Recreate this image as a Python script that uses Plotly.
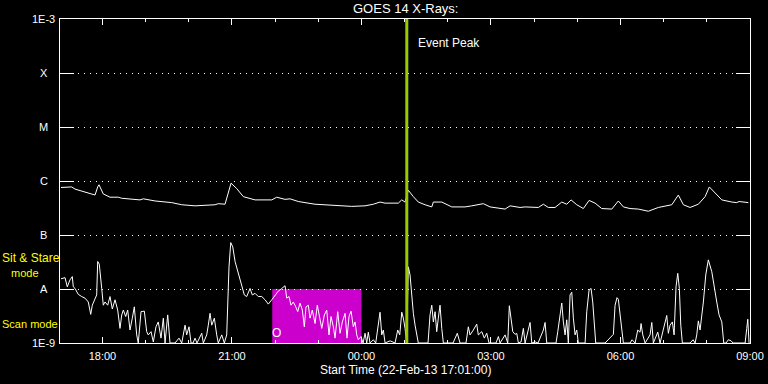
import numpy as np
import pandas as pd
import plotly.graph_objects as go

START = pd.Timestamp("2013-02-22 17:01:00")
END = pd.Timestamp("2013-02-23 09:00:00")

# minutes after start time, log10 flux (W/m^2)
long_t = [1.4, 16.3, 20.9, 34.8, 48.7, 52.4, 54.2, 60.2, 69.5, 81.0,
          85.8, 111.2, 115.8, 132.1, 155.3, 169.2, 187.7, 215.5, 220.0, 229.4,
          233.1, 237.7, 245.6, 254.8, 271.1, 294.3, 301.2, 312.8, 319.7, 331.2,
          354.5, 372.9, 405.5, 424.0, 435.5, 444.8, 451.8, 470.2, 475.0, 479.6,
          484.1, 491.1, 498.0, 507.4, 516.7, 518.9, 530.6, 544.5, 563.0, 572.3,
          588.4, 597.7, 618.6, 625.5, 639.4, 646.4, 655.7, 664.8, 671.8, 678.7,
          688.1, 697.4, 704.3, 710.3, 718.2, 727.4, 735.3, 743.7, 752.9, 766.9,
          776.0, 783.0, 792.3, 803.8, 817.7, 831.6, 850.3, 859.4, 866.4, 875.7,
          887.2, 896.6, 902.5, 910.5, 919.8, 933.7, 940.6, 943.8, 956.7]
long_log = [-6.12, -6.11, -6.15, -6.21, -6.26, -6.11, -6.07, -6.24, -6.30, -6.30,
            -6.32, -6.35, -6.33, -6.37, -6.40, -6.44, -6.46, -6.44, -6.42, -6.43,
            -6.26, -6.04, -6.14, -6.29, -6.35, -6.35, -6.30, -6.34, -6.33, -6.38,
            -6.43, -6.44, -6.47, -6.46, -6.43, -6.39, -6.41, -6.41, -6.35, -6.39,
            -6.17, -6.29, -6.39, -6.44, -6.48, -6.39, -6.39, -6.48, -6.48, -6.46,
            -6.42, -6.48, -6.52, -6.46, -6.49, -6.48, -6.49, -6.49, -6.43, -6.49,
            -6.49, -6.39, -6.43, -6.35, -6.44, -6.51, -6.36, -6.41, -6.51, -6.52,
            -6.37, -6.48, -6.51, -6.52, -6.56, -6.49, -6.44, -6.26, -6.44, -6.49,
            -6.43, -6.29, -6.11, -6.23, -6.35, -6.39, -6.40, -6.38, -6.40]

short_t = [1.4, 7.0, 10.1, 13.9, 17.1, 18.5, 20.9, 25.4, 30.2, 34.8,
           39.3, 42.7, 44.9, 48.7, 51.0, 52.4, 54.6, 58.0, 60.2, 62.6,
           66.3, 69.5, 72.7, 76.5, 80.2, 83.4, 85.8, 88.0, 91.3, 94.1,
           97.3, 100.5, 103.3, 106.6, 108.8, 112.6, 117.2, 120.5, 122.7, 126.5,
           129.7, 133.4, 136.6, 140.4, 143.6, 146.0, 149.7, 152.9, 159.9, 165.4,
           169.2, 173.8, 176.1, 179.3, 182.1, 184.9, 187.7, 190.4, 197.0, 199.2,
           203.9, 206.1, 208.5, 210.9, 214.5, 217.8, 220.0, 224.8, 228.4, 231.7,
           233.1, 234.9, 237.3, 240.1, 243.3, 247.8, 252.6, 256.2, 259.5, 264.1,
           267.3, 271.1, 275.6, 280.4, 285.0, 289.5, 294.3, 298.9, 303.4, 308.2,
           312.8, 315.1, 318.3, 321.1, 324.3, 327.6, 330.4, 333.6, 336.8, 339.6,
           341.9, 345.1, 347.5, 350.7, 354.5, 357.6, 360.4, 363.8, 367.4, 370.7,
           373.9, 376.7, 379.9, 382.3, 386.0, 389.2, 392.4, 396.2, 398.9, 401.7,
           404.5, 407.7, 410.1, 412.4, 414.6, 418.4, 421.2, 424.0, 426.3, 428.5,
           430.9, 435.5, 438.8, 442.4, 444.8, 447.2, 449.4, 451.8, 458.7, 465.7,
           469.4, 472.2, 475.0, 477.2, 479.6, 481.9, 484.1, 486.5, 488.9, 491.1,
           493.5, 495.8, 498.0, 511.5, 514.3, 516.7, 518.9, 521.3, 523.6, 525.8,
           528.2, 530.6, 532.8, 546.3, 549.1, 552.2, 556.0, 564.3, 567.5, 569.9,
           574.5, 579.2, 581.4, 586.2, 589.8, 593.1, 596.3, 606.0, 609.3, 611.6,
           618.6, 622.3, 624.5, 626.9, 629.3, 632.5, 634.8, 637.1, 640.8, 644.0,
           646.4, 653.3, 655.7, 660.3, 664.4, 671.8, 674.2, 676.5, 689.4, 691.8,
           695.0, 697.4, 699.6, 702.0, 704.3, 706.5, 708.9, 711.3, 713.5, 715.9,
           718.2, 720.4, 729.8, 732.1, 735.3, 738.1, 740.4, 742.7, 744.6, 757.6,
           769.1, 771.5, 774.2, 776.0, 778.4, 780.8, 783.0, 792.3, 795.1, 799.3,
           803.0, 806.2, 807.6, 810.0, 813.2, 820.1, 822.5, 824.7, 830.8, 834.0,
           840.0, 843.3, 845.5, 847.9, 851.1, 853.5, 856.2, 858.6, 860.8, 862.8,
           865.0, 875.7, 879.9, 882.7, 885.0, 887.2, 889.6, 894.2, 897.5, 901.1,
           905.9, 909.4, 912.8, 916.0, 919.8, 922.5, 925.7, 928.9, 932.7, 935.5,
           952.2, 954.5, 955.9, 957.7]
short_log = [-7.81, -7.79, -7.96, -7.83, -7.77, -7.96, -7.99, -8.10, -8.14, -8.17,
             -8.24, -8.47, -8.30, -8.20, -8.11, -7.49, -7.54, -7.99, -8.30, -8.24,
             -8.30, -8.14, -8.37, -8.20, -8.39, -8.73, -8.48, -8.39, -8.51, -8.39,
             -8.76, -8.54, -8.33, -8.85, -9.00, -8.42, -8.41, -8.79, -8.85, -8.79,
             -8.98, -8.70, -8.61, -8.91, -8.54, -9.00, -8.48, -9.00, -9.00, -8.91,
             -9.00, -8.67, -8.85, -8.70, -9.00, -9.00, -8.91, -9.00, -8.82, -9.00,
             -8.85, -8.67, -8.45, -8.67, -8.54, -8.85, -9.00, -8.85, -9.00, -8.85,
             -8.14, -7.59, -7.14, -7.22, -7.49, -7.71, -7.96, -8.11, -8.14, -7.99,
             -8.11, -8.08, -8.14, -8.14, -8.20, -8.28, -8.20, -8.11, -8.04, -7.99,
             -7.94, -8.17, -8.14, -8.30, -8.24, -8.33, -8.42, -8.26, -8.39, -8.70,
             -8.33, -8.30, -8.54, -8.39, -8.64, -8.30, -8.48, -8.73, -8.48, -8.39,
             -8.85, -8.51, -8.70, -8.91, -8.42, -8.82, -8.61, -8.45, -8.91, -8.51,
             -8.41, -8.70, -8.61, -8.85, -8.94, -8.88, -9.00, -8.82, -9.00, -8.80,
             -9.00, -8.94, -9.00, -8.61, -8.43, -8.85, -8.76, -9.00, -8.96, -9.00,
             -8.76, -8.85, -8.43, -8.54, -8.73, -9.00, -7.59, -7.74, -8.14, -8.45,
             -8.67, -8.85, -9.00, -9.00, -8.48, -8.30, -8.61, -8.42, -8.79, -8.54,
             -8.30, -8.73, -9.00, -9.00, -8.91, -8.82, -9.00, -9.00, -8.70, -8.85,
             -8.76, -8.65, -8.85, -8.79, -8.91, -8.82, -9.00, -9.00, -8.88, -9.00,
             -8.85, -9.00, -8.31, -8.54, -8.79, -8.84, -8.82, -9.00, -8.98, -8.73,
             -9.00, -8.62, -9.00, -8.98, -9.00, -8.76, -8.62, -9.00, -9.00, -8.79,
             -8.48, -8.26, -8.61, -8.85, -8.57, -9.00, -8.11, -8.06, -8.54, -8.85,
             -8.76, -9.00, -9.00, -8.42, -8.02, -7.99, -8.24, -8.70, -9.00, -9.00,
             -8.84, -8.30, -8.16, -8.19, -8.48, -8.85, -9.00, -9.00, -8.94, -9.00,
             -8.76, -8.80, -8.64, -8.85, -9.00, -8.85, -8.62, -9.00, -8.80, -9.00,
             -8.70, -8.49, -8.82, -8.67, -8.61, -8.85, -7.96, -7.71, -7.99, -8.67,
             -9.00, -9.00, -8.94, -9.00, -8.85, -8.59, -8.76, -8.24, -7.74, -7.46,
             -7.68, -7.93, -8.24, -8.48, -8.61, -9.00, -9.00, -8.94, -8.96, -9.00,
             -9.00, -8.73, -8.56, -9.00]

level_vals = [1e-9, 1e-8, 1e-7, 1e-6, 1e-5, 1e-4, 1e-3]
level_text = ["1E-9", "A", "B", "C", "M", "X", "1E-3"]

event_time = pd.Timestamp("2013-02-23 01:03:00")
scan_start = pd.Timestamp("2013-02-22 21:56:00")
scan_end = pd.Timestamp("2013-02-23 00:00:00")

FONT = "Liberation Sans"
FS = 11


def to_time(mins):
    return START + pd.to_timedelta(np.array(mins), unit="min")


fig = go.Figure()
fig.add_trace(go.Scatter(x=to_time(long_t), y=10 ** np.array(long_log), mode="lines",
                         line=dict(color="white", width=1), showlegend=False))
fig.add_trace(go.Scatter(x=to_time(short_t), y=10 ** np.array(short_log), mode="lines",
                         line=dict(color="white", width=1), showlegend=False))

# scan mode box
fig.add_shape(type="rect", xref="x", yref="y", x0=scan_start, x1=scan_end,
              y0=1e-9, y1=1e-8, fillcolor="#cc00cc", line=dict(width=0), layer="below")
# event peak line
fig.add_shape(type="line", xref="x", yref="paper", x0=event_time, x1=event_time,
              y0=0, y1=1, line=dict(color="#99cc00", width=3), layer="above")

ann = []
for v, t in zip(level_vals, level_text):
    ann.append(dict(text=t, xref="paper", yref="y", x=-0.0232, y=np.log10(v),
                    xanchor="center", yanchor="middle", showarrow=False,
                    font=dict(color="white", size=FS, family=FONT)))
ann += [
    dict(text="GOES 14 X-Rays:", xref="paper", yref="paper", x=0.5, y=1.031,
         xanchor="center", yanchor="middle", showarrow=False,
         font=dict(color="white", size=13, family=FONT)),
    dict(text="Start Time (22-Feb-13 17:01:00)", xref="paper", yref="paper", x=0.5, y=-0.0845,
         xanchor="center", yanchor="middle", showarrow=False,
         font=dict(color="white", size=12, family=FONT)),
    dict(text="Event Peak", xref="x", yref="y", x=pd.Timestamp("2013-02-23 01:16:00"), y=-3.44,
         xanchor="left", yanchor="middle", showarrow=False,
         font=dict(color="white", size=12, family=FONT)),
    dict(text="O", xref="x", yref="y", x=pd.Timestamp("2013-02-22 22:02:00"), y=-8.81,
         xanchor="center", yanchor="middle", showarrow=False,
         font=dict(color="white", size=12, family=FONT)),
    dict(text="Sit & Stare", xref="paper", yref="y", x=-0.087, y=-7.42,
         xanchor="left", yanchor="middle", showarrow=False,
         font=dict(color="yellow", size=12, family=FONT)),
    dict(text="mode", xref="paper", yref="y", x=-0.0514, y=-7.71,
         xanchor="center", yanchor="middle", showarrow=False,
         font=dict(color="yellow", size=11, family=FONT)),
    dict(text="Scan mode", xref="paper", yref="y", x=-0.087, y=-8.65,
         xanchor="left", yanchor="middle", showarrow=False,
         font=dict(color="yellow", size=11, family=FONT)),
]

fig.update_layout(
    template="none",
    width=768, height=384, autosize=False,
    margin=dict(l=60, r=18, t=19, b=41, pad=0),
    paper_bgcolor="black", plot_bgcolor="black",
    font=dict(family=FONT, size=FS, color="white"),
    annotations=ann,
    showlegend=False,
)
fig.update_xaxes(
    type="date", range=[START, END], automargin=False,
    tickformat="%H:%M", tick0="2013-02-22 18:00:00", dtick=3 * 3600 * 1000,
    ticks="inside", ticklen=6, tickwidth=1, tickcolor="white", ticklabelstandoff=3,
    minor=dict(dtick=3600 * 1000, ticks="inside", ticklen=3, tickcolor="white", showgrid=False),
    showline=True, linecolor="white", linewidth=1, mirror="allticks",
    showgrid=False, zeroline=False,
    tickfont=dict(color="white", size=FS, family=FONT),
)
fig.update_yaxes(
    type="log", range=[-9, -3], automargin=False,
    tickvals=level_vals, showticklabels=False,
    ticks="inside", ticklen=14, tickwidth=1, tickcolor="white",
    showline=True, linecolor="white", linewidth=1, mirror="allticks",
    showgrid=True, gridcolor="white", gridwidth=1, griddash="1px,5px",
    zeroline=False,
)

fig.write_html("out.html",
               config={"displayModeBar": False, "responsive": False},
               post_script="document.body.style.margin='0px';document.body.style.background='black';")
